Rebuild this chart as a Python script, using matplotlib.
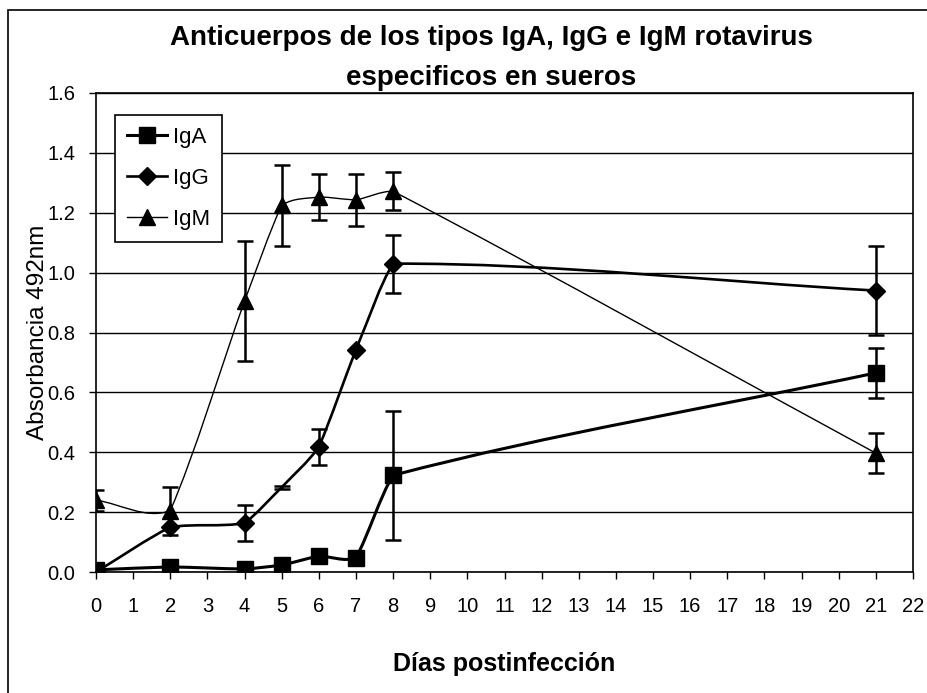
import numpy as np
import matplotlib
matplotlib.use("Agg")
import matplotlib.pyplot as plt
from matplotlib.path import Path
from matplotlib.patches import PathPatch, Rectangle
from matplotlib.lines import Line2D

plt.rcParams['font.family'] = ['Liberation Sans', 'DejaVu Sans']

days = [0, 2, 4, 5, 6, 7, 8, 21]
iga = [0.007, 0.017, 0.01, 0.023, 0.053, 0.047, 0.323, 0.665]
iga_err = [0, 0, 0, 0, 0, 0, 0.215, 0.083]
igg = [0.0, 0.15, 0.163, 0.283, 0.417, 0.743, 1.03, 0.94]
igg_err = [0, 0, 0.06, 0.005, 0.06, 0, 0.097, 0.15]
igm = [0.24, 0.205, 0.905, 1.225, 1.253, 1.243, 1.272, 0.397]
igm_err = [0.035, 0.08, 0.2, 0.135, 0.077, 0.088, 0.063, 0.066]

xticks = list(range(0, 23))
yticks = [0.0, 0.2, 0.4, 0.6, 0.8, 1.0, 1.2, 1.4, 1.6]

fig = plt.figure(figsize=(9.27, 6.93), dpi=100)
ax = fig.add_axes([96/927, 1-572/693, (913-96)/927, (572-93)/693])

def smooth_path(xs, ys, w=0.35):
    # mildly smoothed line (cubic Bezier segments with reduced tangents)
    x = np.asarray(xs, float)
    y = np.asarray(ys, float)
    n = len(x)
    sec = np.diff(y) / np.diff(x)
    m = np.empty(n)
    m[0] = sec[0]
    m[-1] = sec[-1]
    for i in range(1, n-1):
        m[i] = (y[i+1] - y[i-1]) / (x[i+1] - x[i-1])
    verts = [(x[0], y[0])]
    codes = [Path.MOVETO]
    for i in range(n-1):
        dx = x[i+1] - x[i]
        t0 = sec[i] + w*(m[i] - sec[i])
        t1 = sec[i] + w*(m[i+1] - sec[i])
        verts += [(x[i] + dx/3, y[i] + t0*dx/3),
                  (x[i+1] - dx/3, y[i+1] - t1*dx/3),
                  (x[i+1], y[i+1])]
        codes += [Path.CURVE4]*3
    return Path(verts, codes)

series = [
    ("IgA", iga, iga_err, 's', 2.2, 11, list(range(len(days)))),
    ("IgG", igg, igg_err, 'D', 1.9, 9, [0, 1, 2, 4, 5, 6, 7]),
    ("IgM", igm, igm_err, '^', 1.0, 11, list(range(len(days)))),
]

handles = []
for name, vals, err, mk, lw, ms, me in series:
    ax.add_patch(PathPatch(smooth_path(days, vals), facecolor='none',
                           edgecolor='black', lw=lw, zorder=3))
    e_days = [d for d, e in zip(days, err) if e > 0]
    e_vals = [v for v, e in zip(vals, err) if e > 0]
    e_err = [e for e in err if e > 0]
    ax.errorbar(e_days, e_vals, yerr=e_err, fmt='none', ecolor='black',
                elinewidth=1.8, capsize=6, capthick=1.8, zorder=4)
    ax.plot(days, vals, linestyle='none', marker=mk, markersize=ms,
            color='black', markevery=me, zorder=5)
    handles.append(Line2D([], [], color='black', lw=lw, marker=mk,
                          markersize=ms))

ax.set_xlim(0, 22)
ax.set_ylim(0, 1.6)
ax.set_xticks(xticks)
ax.set_xticklabels([str(t) for t in xticks], fontsize=14.5)
ax.set_yticks(yticks)
ax.set_yticklabels([f"{t:.1f}" for t in yticks], fontsize=14.5)
ax.tick_params(direction='out', length=5, width=1, colors='black')
ax.tick_params(axis='x', pad=13)
ax.tick_params(axis='y', pad=10)
ax.grid(axis='y', color='black', lw=1)
ax.set_axisbelow(True)
for s in ax.spines.values():
    s.set_linewidth(1.2)
    s.set_color('black')

ax.set_ylabel("Absorbancia 492nm", fontsize=17.5, labelpad=-1)
ax.set_xlabel("Días postinfección", fontsize=18, fontweight='bold', labelpad=26)

fig.text(0.53, 1-38/693, "Anticuerpos de los tipos IgA, IgG e IgM rotavirus",
         ha='center', va='center', fontsize=20, fontweight='bold')
fig.text(0.53, 1-78/693, "especificos en sueros", ha='center', va='center',
         fontsize=20, fontweight='bold')

leg = ax.legend(handles, ["IgA", "IgG", "IgM"], loc='upper left',
                bbox_to_anchor=(19/817, (572-115)/479), borderaxespad=0,
                fontsize=16, frameon=True,
                fancybox=False, edgecolor='black', framealpha=1,
                handlelength=1.8, labelspacing=0.9, borderpad=0.55,
                handletextpad=0.25)
leg.get_frame().set_linewidth(1.2)

fig.patches.append(Rectangle((8/927, -0.02), 1.0, 1 - 10/693 + 0.02,
                             transform=fig.transFigure, fill=False,
                             edgecolor='black', lw=1.2))

fig.savefig("out.png", dpi=100)
